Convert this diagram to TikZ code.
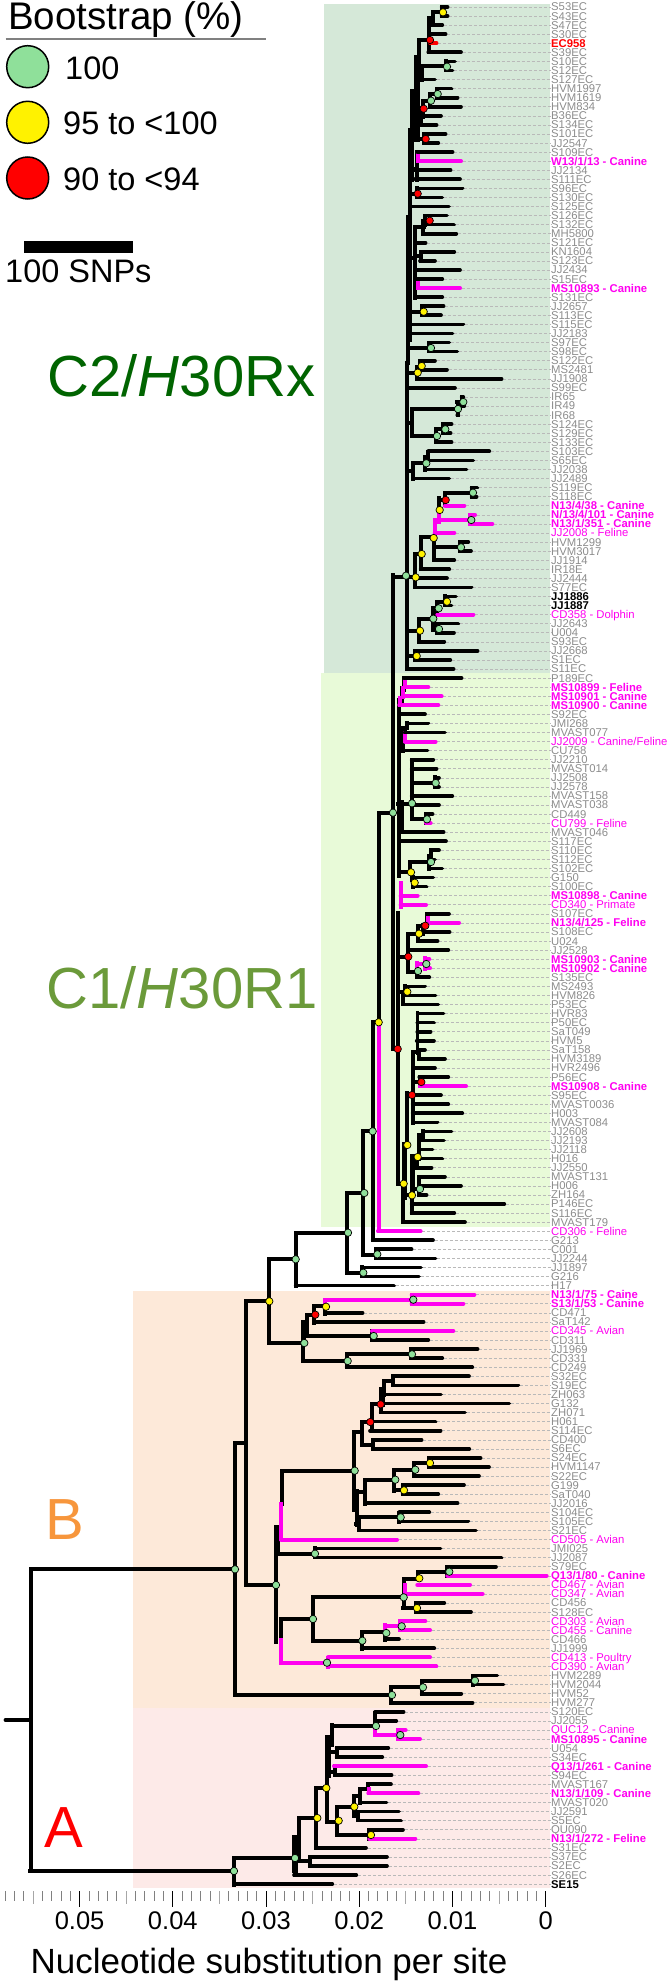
\documentclass[tikz,border=0pt]{standalone}
\usepackage{fontspec}
\setmainfont{Liberation Sans}

\definecolor{bgctwo}{RGB}{213,232,216}
\definecolor{bgcone}{RGB}{232,250,216}
\definecolor{bgb}{RGB}{253,233,217}
\definecolor{bga}{RGB}{253,234,232}
\definecolor{bootgreen}{RGB}{143,224,154}
\definecolor{hostpink}{RGB}{255,0,240}
\definecolor{namegrey}{RGB}{140,140,140}
\definecolor{ctwogreen}{RGB}{0,100,0}
\definecolor{conegreen}{RGB}{107,154,58}
\definecolor{borange}{RGB}{247,150,60}

\tikzset{
  branch/.style={line width=3.7pt,line cap=rect},
  hostbranch/.style={branch,line width=4pt,hostpink},
  thickbranch/.style={line width=5.8pt,line cap=rect},
  tipblack/.style={line width=3.7pt,line cap=round,shorten >=1.7pt},
  tiphost/.style={tipblack,line width=4pt,hostpink},
  tipred/.style={tipblack,red},
  linkline/.style={line width=0.5pt,gray!55,dash pattern=on 3pt off 2pt},
  namelab/.style={anchor=west,inner sep=0pt,text height=8pt,text depth=0pt,font=\fontsize{11.3}{11.3}\selectfont,text=namegrey},
  hostlab/.style={namelab,text=hostpink},
  hostboldlab/.style={namelab,text=hostpink,font=\fontsize{11.3}{11.3}\selectfont\bfseries},
  blacklab/.style={namelab,text=black,font=\fontsize{11.3}{11.3}\selectfont\bfseries},
  redlab/.style={namelab,text=red,font=\fontsize{11.3}{11.3}\selectfont\bfseries},
  boot/.style={circle,draw=black,line width=0.7pt,inner sep=0pt,minimum size=7.4pt},
  legboot/.style={circle,draw=black,line width=1.5pt,inner sep=0pt,minimum size=42pt},
  legtext/.style={anchor=west,inner sep=0pt,font=\fontsize{32.5}{32.5}\selectfont},
  cladelab/.style={inner sep=0pt,font=\fontsize{58}{58}\selectfont},
  ticklab/.style={inner sep=0pt,font=\fontsize{25.5}{25.5}\selectfont}
}

\newcommand{\tiprow}[6]{%
  \node[#2] (lab#4) at (551,{9.068*#4-2.068}) {#6};
  \coordinate (end#4) at (#5,{9.068*#4-2.068});
  \draw[linkline] (end#4) -- (lab#4.west);
  \draw[#1] (#3,{9.068*#4-2.068}) -- (end#4);
}

\begin{document}
\begin{tikzpicture}[x=1pt,y=-1pt]
  \useasboundingbox (0,0) rectangle (671,1983);

  % clade backgrounds
  \fill[bgctwo] (324,4) rectangle (550,673);
  \fill[bgcone] (321,673) rectangle (550,1227);
  \fill[bgb] (133,1291) rectangle (550,1707.5);
  \fill[bga] (133,1707.5) rectangle (550,1888);

  % legend
  \node[anchor=base west,inner sep=0pt,font=\fontsize{38.5}{38.5}\selectfont] (legtitle) at (8,30) {Bootstrap (\%)};
  \draw[line width=2pt,gray] (5.5,38.7) -- (266,38.7);
  \node[legboot,fill=bootgreen] (leggreen) at (27.7,66.7) {};
  \node[legboot,fill=yellow] (legyellow) at (27.7,122.3) {};
  \node[legboot,fill=red] (legred) at (27.7,178) {};
  \node[legtext] (legtxta) at (65,68) {100};
  \node[legtext] (legtxtb) at (63,123.5) {95 to <100};
  \node[legtext] (legtxtc) at (63,179.5) {90 to <94};
  \fill[black] (24,240.7) rectangle (133.3,253.3);
  \node[anchor=base west,inner sep=0pt,font=\fontsize{32.5}{32.5}\selectfont] (snps) at (5,282.7) {100 SNPs};

  % clade names
  \node[cladelab,text=ctwogreen] (ctwo) at (181.5,376) {C2/\textit{H}30Rx};
  \node[cladelab,text=conegreen] (cone) at (182,988) {C1/\textit{H}30R1};
  \node[cladelab,text=borange] (cladeb) at (65,1520) {B};
  \node[cladelab,text=red] (cladea) at (64,1828) {A};

  % axis
  \foreach \i in {0,...,58}
    \draw[line width=0.8pt,gray] ({545.6-9.32*\i},1891) -- ({545.6-9.32*\i},1901);
  \foreach \i in {5,15,25,35,45,55}
    \draw[line width=0.8pt,gray!70] ({545.6-9.32*\i},1891) -- ({545.6-9.32*\i},1904);
  \foreach \i/\tk in {0/0,10/0.01,20/0.02,30/0.03,40/0.04,50/0.05} {
    \draw[line width=1pt,black] ({545.6-9.32*\i},1891) -- ({545.6-9.32*\i},1907);
    \node[ticklab] (tick\i) at ({545.6-9.32*\i},1921) {\tk};
  }
  \node[anchor=base,inner sep=0pt,font=\fontsize{35}{35}\selectfont] (axistitle) at (269,1973) {Nucleotide substitution per site};

  % internal branches, vertical
  \foreach \x/\ya/\yb in {441.7/7/16,433.3/11.7/25,429/18.3/52.3,419.3/40/65,446/61.3/70.3,421.7/66.7/79.7,
    437.3/88.7/97.7,430/94/106.7,422.7/100.7/117,420.7/108/125,424.3/134/143,411.7/90.7/180,417.3/152/180,
    417.3/188.3/197.3,425/216/225,423.3/220.7/233.7,415/226.7/298,421/252/261,422.3/306/315.3,
    410/130/340,408.3/216.7/363,406.7/363/669,
    429.3/342.7/351,420/360.7/368,417.3/366.7/378.7,461.7/397/406,458/402/415,411.7/409/436,443.3/424/433.3,
    436/429.3/442.3,428.3/452/461.3,425/456.7/470.3,413.3/463.3/478.7,471.7/487.7/497,445/492.7/505,439.3/498/510,
    434/537.3/560,460/542/551,420.7/537.3/569.3,415/554/587.3,392.9/575/1049,
    445/596.3/605.3,437.3/601.7/614.7,432.7/608.3/630,437.3/623.7/632.7,419.3/618.7/641.7,415/650.7/660,
    404/678/690,402/688/705,399.3/700/876,407.3/723.3/728,405/728/733,402.7/728/751,411.7/759.7/819.3,
    435/777/787,426/814/823,431/850.3/859.3,429.3/856/869,410/862/872.3,411.7/872.3/880,413.3/877/887,
    379/812.7/1022,427.3/913.7/925.7,423.3/925/933.7,418.3/925.7/941,408.3/933.7/972,417.3/963/977.3,
    398.3/913/1183.7,405/986/995,403.3/995/1004.5,417.5/1013/1053,419.3/1049.7/1058.7,413/1053/1123,
    420/1077/1082,407.3/1093/1145,423.3/1131/1140,419.3/1135/1159,417.3/1157/1168,419.3/1176.7/1194.7,
    411.7/1187/1213,403.3/1183.7/1222,372.7/1022.3/1240,363.3/1131.3/1255,347.3/1193/1272.7,376/1249/1258,
    362.3/1267.3/1276.3,295.7/1232.7/1285.7,269/1259.3/1343,245.7/1301.3/1585,235/1443/1695,
    325/1305/1314,314/1306/1322.7,306.7/1314.7/1336,372/1331/1340,303.3/1323/1361.3,411/1349/1358,346.7/1354.3/1367,
    393.3/1376/1385,384/1381/1395,380.7/1395/1412.3,371.7/1404.3/1431,362/1422/1445,373.3/1440/1449,354/1432/1510,
    429/1457.7/1467,414.3/1463/1476,394/1469.7/1490.7,402.7/1485/1494,365/1479.7/1504,399.3/1513/1522,359.3/1517/1530,
    356.7/1491/1525,281.7/1470.7/1504,276/1553/1642,315/1548/1557.5,281/1619/1640,313/1597.3/1641,
    361.7/1632/1648.7,385/1625/1640,447.3/1566.7/1575.7,418.3/1571.7/1578.7,404/1578.7/1608,416/1602.7/1612,
    473.3/1676/1685,421.7/1680.7/1694.3,391/1687.3/1703.3,
    30.7/1569.3/1871,234/1858/1884.7,295/1838/1875,299.3/1818/1861,310/1857/1866,316/1788/1848.3,326.7/1753/1822,
    331.7/1725/1745,375/1712.7/1726,336.7/1748/1757,335/1766/1775,368.3/1784/1789,360/1789/1803,358.3/1811.4/1820.5,
    354/1796/1816,337.3/1806.7/1835,369.3/1830/1839}
    \draw[branch] (\x,\ya) -- (\x,\yb);

  % internal branches, horizontal
  \foreach \y/\xa/\xb in {11.7/433.3/443,18.3/429/433.3,40/419.3/429,66/417.3/446.5,60/417/419.3,90.7/411.7/417,94/430/438,
    100.7/422.7/431,108.7/420.7/423.7,115/417/420.7,139/417/425.7,169/411.7/417.3,193.7/410/417.3,220.7/425/429.7,
    226.7/415/424,256/415/421,258/410/415,283/415/418,311.7/410/423.7,
    348/410/431,367/417.3/420,372.7/410/418,402/457.3/463.3,409/411.7/458.3,429.3/436/445,436/411.7/437,423/407/411.7,
    456.7/425/428.3,463.3/413.3/426.3,471/407/413.3,492.7/445/473,500/439.3/445.7,537.3/420.7/434,547.3/434/461,
    554/415/421.7,577/392.9/415.7,601.7/437.3/447,608.3/432.7/438.7,618.7/419.3/433.3,629/432.7/439,630.7/407/420,656/407/416.7,
    731/399/403,804/398/412,783/411.7/435.7,819.3/411.7/427,728/405/407.3,856/429.3/431,862/410/431,872.3/399.3/411,
    812.7/379/393,925.7/418.3/425.3,933.7/408.3/419,956.7/398.3/408.3,972/408/418,991.7/398/407.3,1052/413/419,
    1082/413/421,1095/407.3/412,1145/404/407,1157/412/418,1189/411.7/420,1195/405/412,1183.7/398/403.7,
    1022.3/372.7/379,1131.3/363.3/372.7,1193/347.3/364.3,1233/295.7/348,1255/363/377,1272.7/347.3/363.3,1049/393.3/398,
    1259.3/269/295.7,1301.3/245.7/269.3,1343/269/304.3,1306/314/326,1314.7/306.7/315.3,1336/303.3/373.7,
    1354.3/346.7/412,1361/303.3/347.7,1381/384/393.3,1404/371.7/381,1422/362/370.3,1445/362/373.3,1432/354/362,
    1470.7/281.7/354.7,1463/414.3/430,1469.7/394/415.3,1490.3/394/404,1479.7/365/395.3,1491.7/355/365,1517/359.3/400.7,
    1524/356/359.3,1443/235/246,1585/246/276,1553.7/276/315,1569.3/30.7/235,1619/281/313,1597.3/313/403.7,
    1641/313/362.7,1632.3/361.7/386.3,1571.7/418.3/449.3,1578.7/404/419.3,1608/402.7/417,1680.7/421.7/475,
    1687.3/391/423,1695/235/392,1871/30/234,1858/234/295,1818/299.3/317.3,1861/299/310,1788/316/326.3,1821.7/326.7/338.7,
    1726/331.7/376,1752.3/330/336.7,1771.7/328/335,1789/360/369,1796/354/360,1816/354/358.3,1806.7/337.3/354.3,1835/337.3/371}
    \draw[branch] (\xa,\y) -- (\xb,\y);
  \draw[branch,line cap=round] (5.5,1720) -- (30.7,1720);

  % doubled stretches of the spine
  \foreach \x/\ya/\yb in {417/58/139,401.5/803/830,404.5/1145/1197,412.5/1157/1195,382/1390/1404,303.5/1323/1337,
    276.7/1528/1553,328/1738/1775,295/1838/1870}
    \draw[thickbranch] (\x,\ya) -- (\x,\yb);

  % pink internal branches
  \foreach \x/\ya/\yb in {418.3/155/161,418.3/283/288,439.3/510/520,470/514.7/524,434.7/520/538,405/681/687,402.7/688/697,
    400/698/705,405/733/741,400.7/882.7/906.7,428.3/918.3/923.3,417.3/963/970,425/958/969,420/1082/1086,378.7/1022.3/1231,
    325/1299.7/1305,411.7/1294.7/1303.7,281/1504/1539,281/1640/1662.7,328/1658/1667,385/1625/1632,400/1621/1630,405/1585/1593.7,
    375/1726/1735,398.3/1730/1739,369.3/1789/1793}
    \draw[hostbranch] (\x,\ya) -- (\x,\yb);
  \foreach \y/\xa/\xb in {520/439/471.3,522/434.7/439.3,964/417.3/426.7,1299.7/325/413.3,1662.7/281/327,1626/385/401.7,1735/375/400.3}
    \draw[hostbranch] (\xa,\y) -- (\xb,\y);

  % tips with plain names
  \foreach \xa/\rw/\xb/\nm in {441.7/1/449.3/S53EC,441.7/2/449.3/S43EC,433.3/3/444/S47EC,429/4/447.3/S30EC,428.3/6/462.7/S39EC,
    446/7/456.7/S10EC,446/8/454.3/S12EC,421.7/9/436.7/S127EC,437.3/10/453.3/HVM1997,437.3/11/459.3/HVM1619,430/12/462.7/HVM834,
    422.7/13/442.7/B36EC,420.7/14/438.3/S134EC,424.3/15/447.3/S101EC,424.3/16/440/JJ2547,417.3/17/454.3/S109EC,414/19/452.3/JJ2134,
    415/20/461.7/S111EC,417.3/21/464.3/S96EC,417.3/22/444/S130EC,411.7/23/450.7/S125EC,425/24/448.7/S126EC,425/25/455.7/S132EC,
    423.3/26/458/MH5800,417.3/27/427.3/S121EC,421.7/28/456/KN1604,420/29/436.7/S123EC,415/30/461.7/JJ2434,416/31/444/S15EC,
    416/33/444/S131EC,422.3/34/445.3/JJ2657,422.3/35/442.7/S113EC,410/36/465/S115EC,408.3/37/454.3/JJ2183,429.3/38/451/S97EC,
    429.3/39/459/S98EC,420/40/436.7/S122EC,417.3/41/448.7/MS2481,417.3/42/503.3/JJ1908,408/43/456.7/S99EC,461.7/44/465/IR65,
    461.7/45/466/IR49,457.3/46/460/IR68,443.3/47/453.3/S124EC,443.3/48/452.3/S129EC,436/49/453.3/S133EC,428.3/50/491/S103EC,
    428.3/51/475/S65EC,425/52/468.3/JJ2038,413.3/53/451/JJ2489,471.7/54/479/S119EC,471.7/55/478.3/S118EC,460/60/470/HVM1299,
    460/61/472.7/HVM3017,434/62/456/JJ1914,420.7/63/451/IR18E,415/64/448.7/JJ2444,415/65/473.3/S77EC,437.3/69/460/JJ2643,
    437.3/70/455.7/U004,419.3/71/446/S93EC,415/72/479.3/JJ2668,415/73/452/S1EC,409/74/455.3/S11EC,404/75/463.3/P189EC,
    399.3/79/426.7/S92EC,407.3/80/430/JMI268,404/81/446.7/MVAST077,402.7/83/429.3/CU758,411.7/84/435/JJ2210,411.7/85/438.3/MVAST014,
    435/86/440.7/JJ2508,435/87/440.7/JJ2578,411.7/88/454/MVAST158,411.7/89/440.7/MVAST038,426/90/434.3/CD449,401.7/92/445.3/MVAST046,
    401.7/93/447.7/S117EC,431/94/440.7/S110EC,431/95/436.7/S112EC,429.3/96/444/S102EC,411.7/97/435/G150,413.3/98/428.3/S100EC,
    427.3/101/450.7/S107EC,423.3/103/451.3/S108EC,418.3/104/439.3/U024,410/105/450/JJ2528,417.3/108/431/S135EC,405/109/426.7/MS2493,
    404/110/437.3/HVM826,403.3/111/440/P53EC,417.7/112/445.3/HVR83,417.3/113/435.7/P50EC,417.3/114/432.3/SaT049,416.7/115/435.7/HVM5,
    419.3/116/426.7/SaT158,419.3/117/446.7/HVM3189,414/118/436.7/HVR2496,419.3/119/450/P56EC,412.7/121/442.7/S95EC,
    412.7/122/450/MVAST0036,412.7/123/464/H003,413.3/124/439.3/MVAST084,423.3/125/453.3/JJ2608,423.3/126/445.7/JJ2193,
    419.3/127/434.3/JJ2118,419.3/128/444/H016,417.3/129/433.3/JJ2550,419.3/130/446.7/MVAST131,419.3/131/462.7/H006,420/132/428.3/ZH164,
    411.7/133/506/P146EC,411.7/134/456/S116EC,403.3/135/466.7/MVAST179,372.7/137/434.7/G213,376/138/413.3/C001,376/139/437.3/JJ2244,
    362.3/140/422.7/JJ1897,362.3/141/420.7/G216,295.7/142/395.7/H17,325/145/364.3/CD471,314/146/425.3/SaT142,372/148/430/CD311,
    411/149/479.3/JJ1969,411/150/444/CD331,346.7/151/474/CD249,393.3/152/470.7/S32EC,393.3/153/520/S19EC,384/154/442.7/ZH063,
    380.7/155/511/G132,380.7/156/466.7/ZH071,370/157/437.3/H061,370/158/442.3/S114EC,373.3/159/423.3/CD400,373.3/160/471/S6EC,
    429/161/482.3/S24EC,429/162/490.7/HVM1147,414.3/163/480.7/S22EC,402.7/164/465.7/G199,402.7/165/440/SaT040,365/166/459.3/JJ2016,
    399.3/167/431/S104EC,399.3/168/470/S105EC,359.3/169/477.7/S21EC,315/171/442.3/JMI025,315/172/503.3/JJ2087,447.3/173/497.7/S79EC,
    416/177/446/CD456,416/178/472.7/S128EC,385/181/400.7/CD466,361.7/182/436/JJ1999,473.3/185/499/HVM2289,473.3/186/505.3/HVM2044,
    421.7/187/463/HVM52,391/188/474.3/HVM277,375/189/405.3/S120EC,375/190/398/JJ2055,336.7/193/390/U054,336.7/194/384/S34EC,
    335/196/393.3/S94EC,368.3/197/392.7/MVAST167,360/199/388.3/MVAST020,358.3/200/400.7/JJ2591,358.3/201/402.7/S5EC,369.3/202/404.7/QU090,
    316/204/367.7/S31EC,310/205/388.7/S37EC,310/206/388.7/S2EC,294/207/358/S26EC}
    {\tiprow{tipblack}{namelab}{\xa}{\rw}{\xb}{\nm}}

  % tips with a black or a red name
  \foreach \xa/\rw/\xb/\nm in {445/66/457.7/JJ1886,445/67/453.3/JJ1887,234/208/334/SE15}
    {\tiprow{tipblack}{blacklab}{\xa}{\rw}{\xb}{\nm}}
  \tiprow{tipred}{redlab}{430}{5}{438.3}{EC958}

  % tips from animal hosts, bold names
  \foreach \xa/\rw/\xb/\nm in {418.3/18/462.7/{W13/1/13 - Canine},418.3/32/461.7/{MS10893 - Canine},445/56/466/{N13/4/38 - Canine},
    470/57/476.7/{N/13/4/101 - Canine},470/58/494/{N13/1/351 - Canine},405/76/430/{MS10899 - Feline},402.7/77/443.3/{MS10901 - Canine},
    399.3/78/440/{MS10900 - Canine},400.7/99/419.3/{MS10898 - Canine},428.3/102/460.7/{N13/4/125 - Feline},425/106/431/{MS10903 - Canine},
    425/107/431.7/{MS10902 - Canine},420/120/467.7/{MS10908 - Canine},411.7/143/476/{N13/1/75 - Caine},411.7/144/465/{S13/1/53 - Canine},
    447.3/174/548.3/{Q13/1/80 - Canine},398.3/192/421.7/{MS10895 - Canine},334/195/427.7/{Q13/1/261 - Canine},
    368.3/198/420/{N13/1/109 - Canine},369.3/203/417/{N13/1/272 - Feline}}
    {\tiprow{tiphost}{hostboldlab}{\xa}{\rw}{\xb}{\nm}}

  % tips from animal hosts, plain names
  \foreach \xa/\rw/\xb/\nm in {434.7/59/456/{JJ2008 - Feline},437.3/68/475/{CD358 - Dolphin},405/82/437.3/{JJ2009 - Canine/Feline},
    426/91/432.3/{CU799 - Feline},400.7/100/427.7/{CD340 - Primate},378/136/422.3/{CD306 - Feline},372/147/455/{CD345 - Avian},
    281/170/398.7/{CD505 - Avian},417.3/175/471.7/{CD467 - Avian},405/176/484.3/{CD347 - Avian},400/179/427/{CD303 - Avian},
    400/180/431.7/{CD455 - Canine},328/183/431.7/{CD413 - Poultry},328/184/438/{CD390 - Avian},398.3/191/407.3/{QUC12 - Canine}}
    {\tiprow{tiphost}{hostlab}{\xa}{\rw}{\xb}{\nm}}

  % bootstrap marks
  \foreach \x/\y [count=\i] in {447/66.7,437.7/94,431/100.7,463.3/402,458/409,445.3/429.3,437/436,431/348,426.3/463.3,473/492.7,471.3/520,
    461/547.3,406/575.7,438.7/608.3,433.3/618.7,439/629,393/812.7,412/803.3,435.7/783,427/819.3,431/862,426.3/964,418/971,
    420/1189,372.7/1131.3,364.3/1193,348/1232.7,377.3/1254.3,363.3/1272.7,295.7/1259.3,413.3/1299.7,373.7/1336,304.3/1343,412/1354.3,
    347.7/1361,354.7/1470.7,415.3/1469.7,395.3/1479.7,400.7/1517.3,315/1553.7,276/1585,235/1569.3,313/1619,327/1662.7,
    449.3/1571.7,403.7/1597.3,362.3/1640.7,386.3/1633,401.7/1626.3,475/1680.7,423/1687.3,392/1695,376/1726,400.3/1735,234/1871,295/1858}
    \node[boot,fill=bootgreen] (gn\i) at (\x,\y) {};
  \foreach \x/\y [count=\i] in {443/12.3,423.7/311.7,421.7/366,417.7/372.7,439.7/510,433.7/538,421.7/554,415.7/577.3,447/601.7,420/630.7,
    416.7/656,411/872.3,414.7/882.7,419/933.7,407.3/991.7,407.3/1145,417.7/1157,412/1195.3,403.7/1183.7,378.7/1022.3,269.3/1301.3,
    326/1306.7,430/1463,404/1490.3,419.3/1578.3,417/1608,326.3/1788,317.3/1818,338.7/1820.7,354.3/1806.7,371/1835}
    \node[boot,fill=yellow] (yn\i) at (\x,\y) {};
  \foreach \x/\y [count=\i] in {430/40,423.7/108.7,425.7/139,417.7/193.7,429.7/220.7,445.7/500,425.3/925.7,408.3/956.7,397.7/1049,
    421.3/1082,412/1095,315.3/1314.7,380.7/1404.3,370.3/1422}
    \node[boot,fill=red] (rn\i) at (\x,\y) {};
\end{tikzpicture}
\end{document}
